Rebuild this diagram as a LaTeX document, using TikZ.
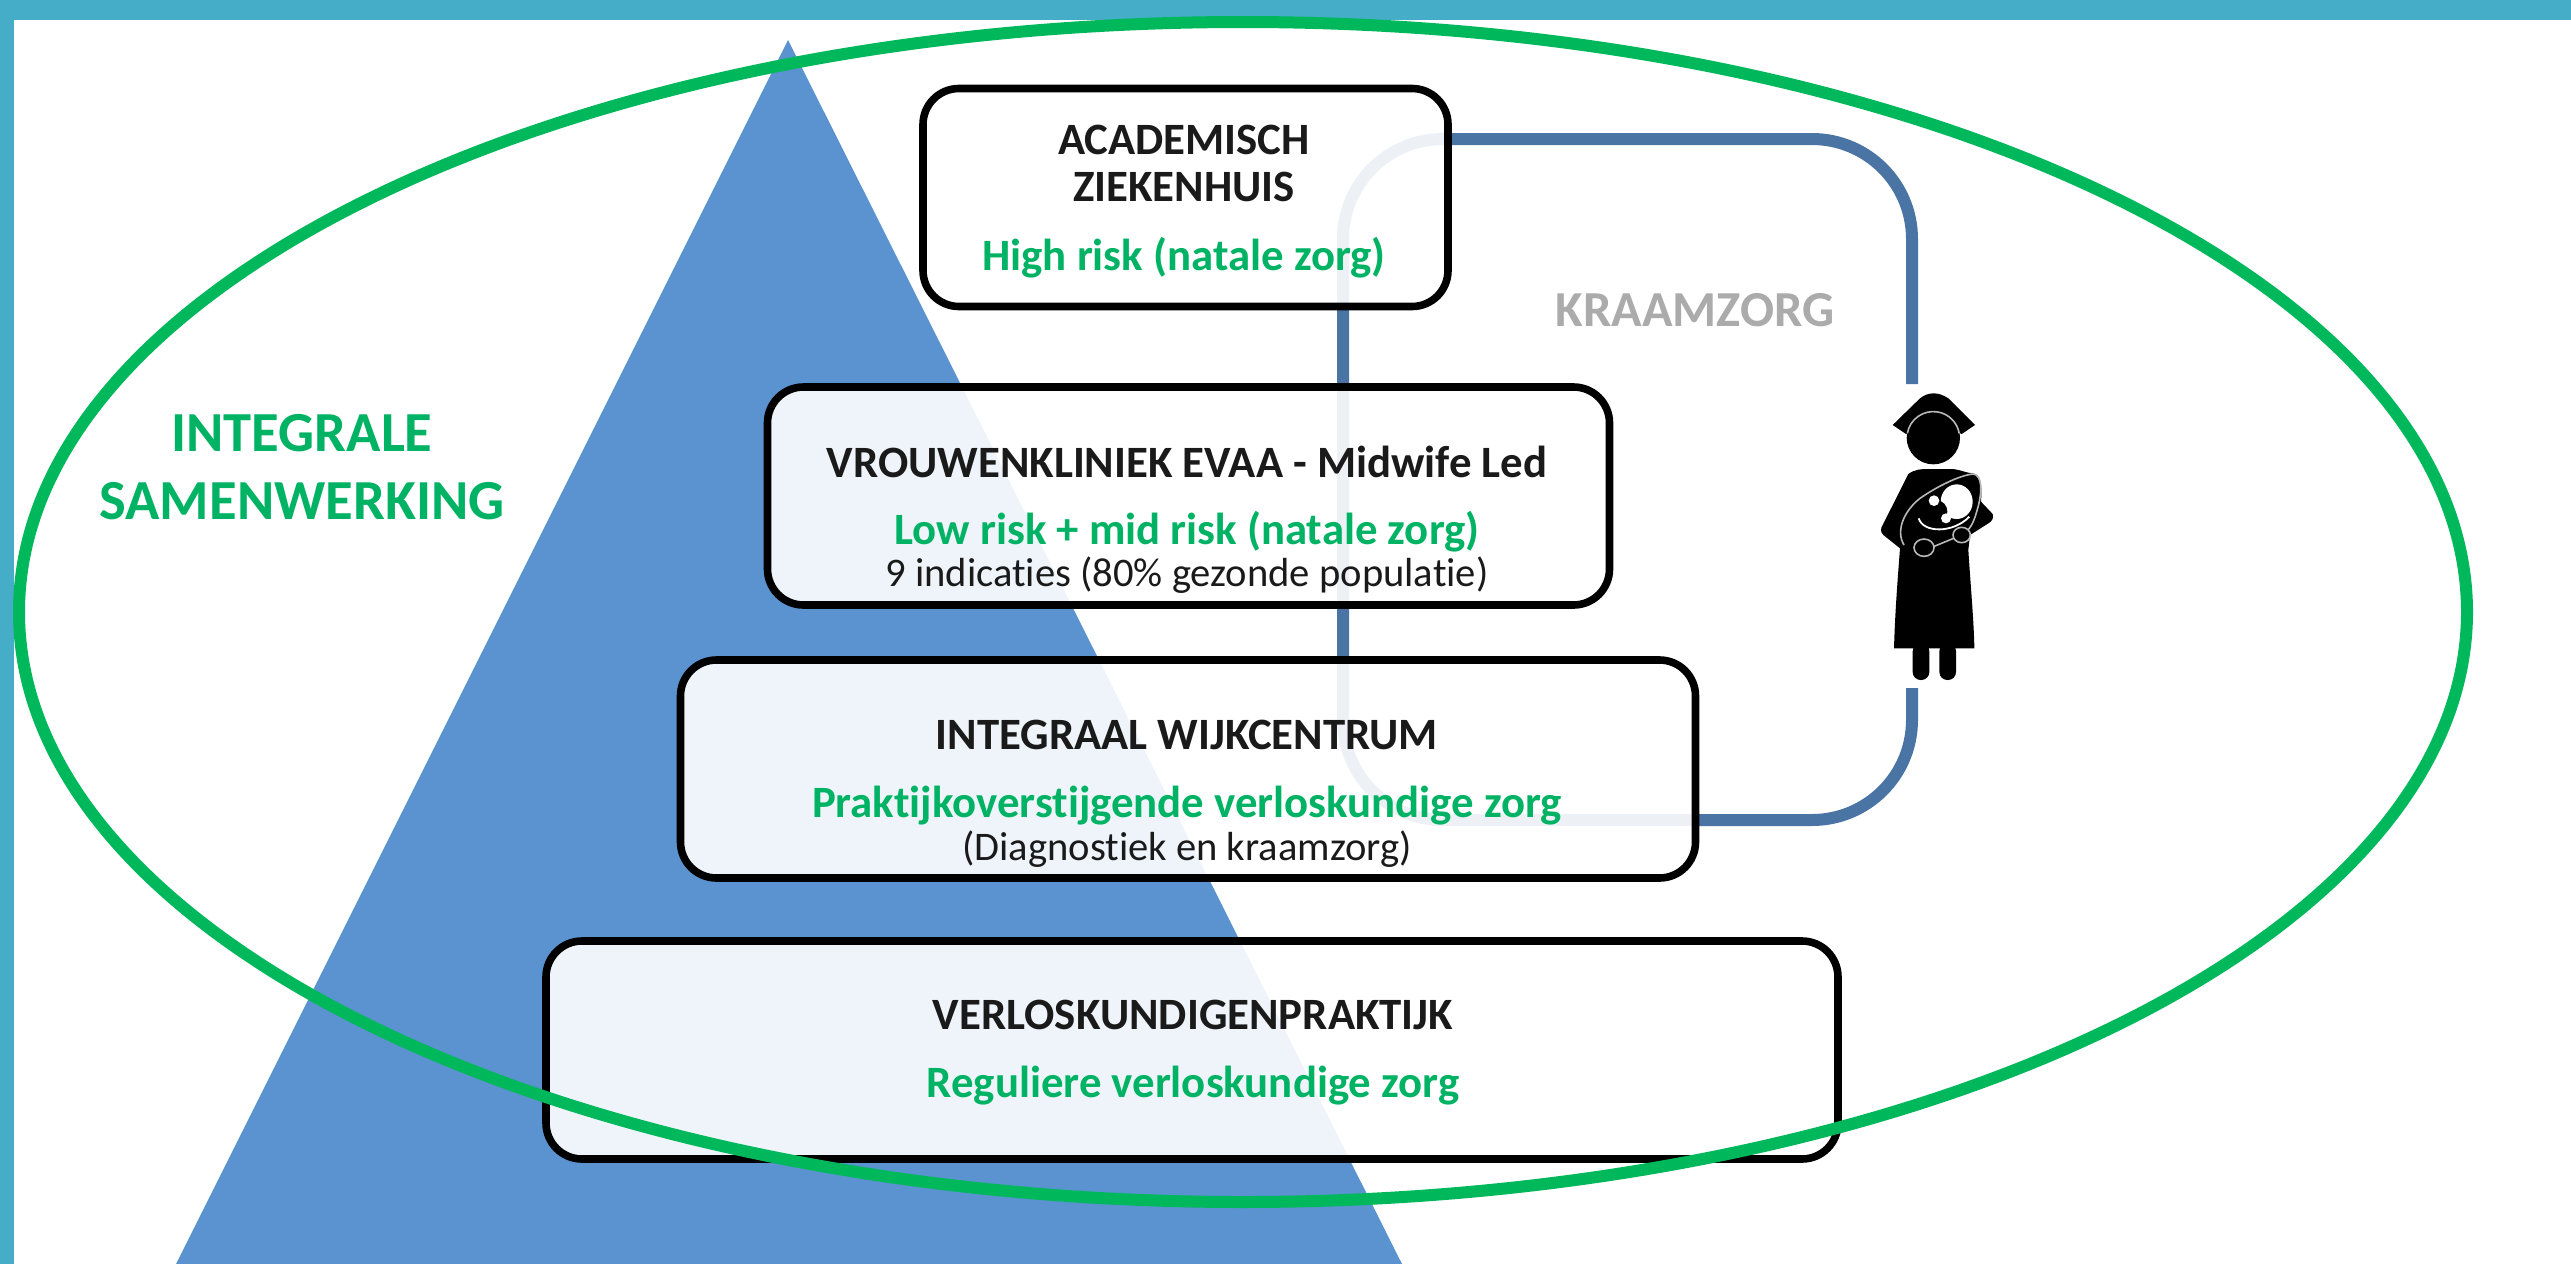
\documentclass[tikz,border=0pt]{standalone}
\usepackage{fontspec}
\setmainfont[Ligatures=NoCommon]{Carlito}
\definecolor{band}{HTML}{45ADC8}
\definecolor{pyr}{HTML}{5A93D0}
\definecolor{ring}{HTML}{00B85C}
\definecolor{care}{HTML}{4A74A4}
\definecolor{labelgreen}{HTML}{00B264}
\definecolor{labelgrey}{HTML}{ABABAB}
\definecolor{inkdark}{HTML}{1A1A1A}
\tikzset{
  x=0.5pt,y=-0.5pt,
  levelbox/.style={draw=black,line width=3.8pt,fill=white,fill opacity=0.9,rounded corners=18pt,inner sep=0pt},
  title/.style={font=\fontsize{22.4}{24}\selectfont\bfseries,text=inkdark,inner sep=0pt,anchor=center},
  greenline/.style={font=\fontsize{22.4}{24}\selectfont\bfseries,text=labelgreen,inner sep=0pt,anchor=center},
  smallline/.style={font=\fontsize{20.3}{22}\selectfont,text=inkdark,inner sep=0pt,anchor=center},
  biggreen/.style={font=\fontsize{28.3}{30}\selectfont\bfseries,text=labelgreen,inner sep=0pt,anchor=center},
  greyline/.style={font=\fontsize{25.2}{27}\selectfont\bfseries,text=labelgrey,inner sep=0pt,anchor=center},
  figgap/.style={draw=white!72!black,line width=0.8pt},
}
\newcommand{\levelrect}[5]{\node[levelbox,minimum width=#4*0.5pt,minimum height=#5*0.5pt] (#1) at (#2,#3) {};}
\begin{document}
\begin{tikzpicture}
\useasboundingbox (0,0) rectangle (2571,1264);
\fill[band] (0,0) rectangle (2571,1264);
\fill[white] (14,20) rectangle (2571,1264);
% pyramid
\fill[pyr] (788,40) -- (1402,1264) -- (176,1264) -- cycle;
% kraamzorg connector
\coordinate (careTop) at (1912,384);
\coordinate (careBottom) at (1912,688);
\draw[care,line width=6pt,rounded corners=50pt] (careTop) -- (1912,139) -- (1343,139) -- (1343,820) -- (1912,820) -- (careBottom);
% level boxes
\levelrect{academic}{1185.5}{197.5}{525}{218}
\levelrect{clinic}{1188.5}{496}{842}{218}
\levelrect{centre}{1188}{769}{1015}{218}
\levelrect{practice}{1192}{1050}{1292}{218}
% texts
\node[title] (t1a) at (1184,140) {ACADEMISCH};
\node[title] (t1b) at (1184,187) {ZIEKENHUIS};
\node[greenline] (t1c) at (1184,258) {High risk (natale zorg)};
\node[title] (t2a) at (1187,462) {VROUWENKLINIEK EVAA - Midwife Led};
\node[greenline] (t2b) at (1187,532) {Low risk + mid risk (natale zorg)};
\node[smallline] (t2c) at (1187,575) {9 indicaties (80\% gezonde populatie)};
\node[title] (t3a) at (1187,735) {INTEGRAAL WIJKCENTRUM};
\node[greenline] (t3b) at (1187,806) {Praktijkoverstijgende verloskundige zorg};
\node[smallline] (t3c) at (1187,849) {(Diagnostiek en kraamzorg)};
\node[title] (t4a) at (1193,1015) {VERLOSKUNDIGENPRAKTIJK};
\node[greenline] (t4b) at (1193,1086) {Reguliere verloskundige zorg};
\node[biggreen] (sideA) at (302,433) {INTEGRALE};
\node[biggreen] (sideB) at (302,501) {SAMENWERKING};
\node[greyline] (careLabel) at (1695,310) {KRAAMZORG};
% midwife figure (crop coordinates, 3 units per pixel)
\begin{scope}[shift={(1820,370)},x=0.16667pt,y=-0.16667pt]
  \fill[black] (218,165) -- (300,85) .. controls (325,65) and (355,65) .. (385,85) -- (465,165) -- (425,192) -- (340,150) -- (258,192) -- cycle;
  \fill[black] (340,203) circle (80);
  \draw[figgap] (262,190) arc (190:350:79);
  \fill[black] (265,312) .. controls (285,298) and (300,297) .. (330,297) -- (395,297) .. controls (420,298) and (440,310) .. (460,310)
     .. controls (480,312) and (487,340) .. (483,395) -- (518,432) .. controls (522,445) and (515,455) .. (505,460) -- (450,495)
     -- (445,540) .. controls (452,650) and (462,760) .. (463,835) -- (222,835) .. controls (225,730) and (232,640) .. (240,535)
     -- (190,495) .. controls (180,485) and (182,475) .. (188,465) -- cycle;
  \fill[black,rounded corners=4pt] (278,820) rectangle (328,930);
  \fill[black,rounded corners=4pt] (358,820) rectangle (408,930);
  \draw[figgap] (252,525) .. controls (225,480) and (255,420) .. (300,385) .. controls (350,350) and (420,315) .. (460,312)
     .. controls (485,315) and (490,360) .. (470,425) .. controls (460,460) and (450,480) .. (425,495) -- (340,530);
  \fill[white] (410,395) ellipse (48 and 52);
  \fill[black] (350,425) ellipse (32 and 34);
  \fill[white] (342,392) circle (16);
  \fill[white] (378,445) circle (15);
  \draw[white,line width=0.9pt] (296,445) .. controls (310,490) and (400,490) .. (448,440);
  \fill[black] (312,533) ellipse (30 and 26);
  \draw[figgap] (312,533) ellipse (30 and 26);
  \fill[black] (425,495) ellipse (26 and 23);
  \draw[figgap] (425,495) ellipse (26 and 23);
\end{scope}
% green ring
\draw[ring,line width=6pt] (1243,612) ellipse (1224 and 590);
\end{tikzpicture}
\end{document}
